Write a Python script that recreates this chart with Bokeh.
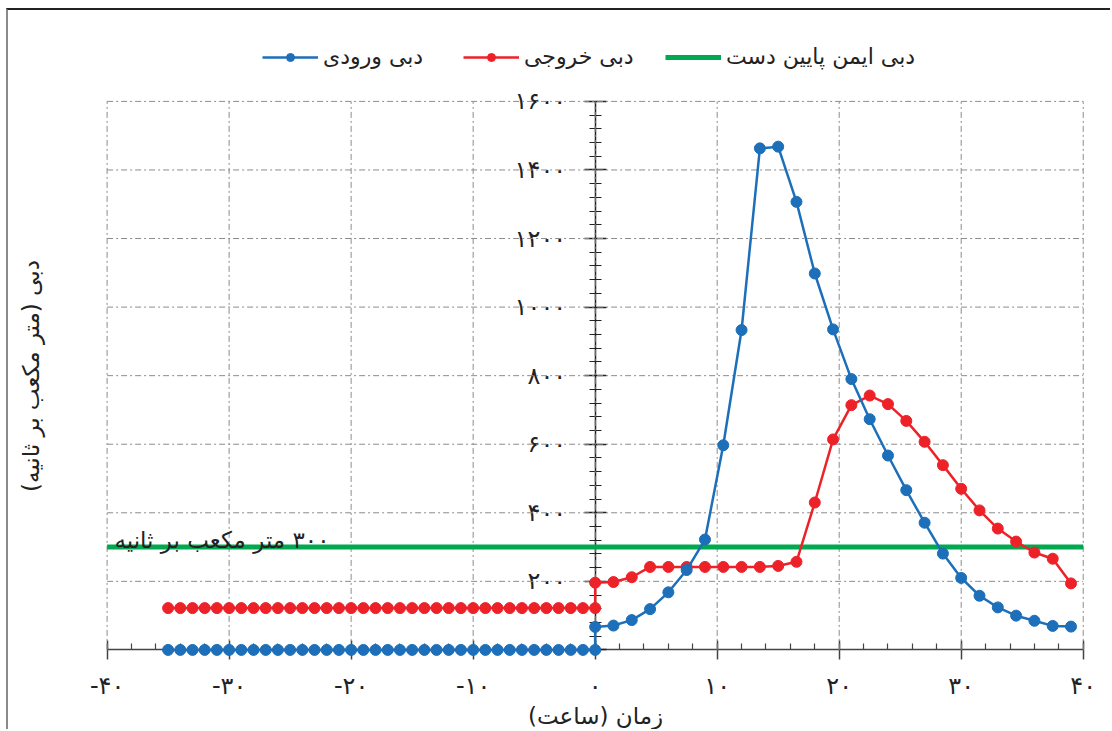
from bokeh.plotting import figure
from bokeh.models import (LinearAxis, FixedTicker, SingleIntervalTicker, Legend,
                          LegendItem, Range1d)
from bokeh.embed import file_html
from bokeh.resources import INLINE
from bokeh.core.properties import value

# ---------------- data ----------------
hours = [-35, -34, -33, -32, -31, -30, -29, -28, -27, -26, -25, -24, -23, -22,
         -21, -20, -19, -18, -17, -16, -15, -14, -13, -12, -11, -10, -9, -8,
         -7, -6, -5, -4, -3, -2, -1, 0,
         0, 1.5, 3, 4.5, 6, 7.5, 9, 10.5, 12, 13.5, 15, 16.5, 18, 19.5, 21,
         22.5, 24, 25.5, 27, 28.5, 30, 31.5, 33, 34.5, 36, 37.5, 39]

inflow = [0, 0, 0, 0, 0, 0, 0, 0, 0, 0, 0, 0, 0, 0, 0, 0, 0, 0,
          0, 0, 0, 0, 0, 0, 0, 0, 0, 0, 0, 0, 0, 0, 0, 0, 0, 0,
          67, 71, 87, 119, 168, 233, 322, 597, 933, 1463, 1468, 1307, 1098,
          935, 790, 673, 567, 466, 371, 281, 210, 158, 124, 100, 85, 70, 68]

outflow = [122, 122, 122, 122, 122, 122, 122, 122, 122, 122, 122, 122,
           122, 122, 122, 122, 122, 122, 122, 122, 122, 122, 122, 122,
           122, 122, 122, 122, 122, 122, 122, 122, 122, 122, 122, 122,
           196, 198, 212, 242, 242, 242, 242, 242, 242, 242, 245, 257, 430,
           614, 714, 742, 717, 668, 607, 539, 470, 407, 354, 316, 284, 266, 194]

safe_flow = 300
x_start, x_end = -40, 40
y_start, y_top_tick = 0, 1600
x_view_start, x_view_end = -43, 42.4
y_view_start, y_view_end = -238, 1836

RLM = "\u200f"
label_inflow = "دبی ورودی"
label_outflow = "دبی خروجی"
label_safe = "دبی ایمن پایین دست"
safe_note = RLM + "۳۰۰ متر مکعب بر ثانیه"
x_title = RLM + "زمان (ساعت)" + RLM
y_title = RLM + "دبی (متر مکعب بر ثانیه)" + RLM

x_ticks = [-40, -30, -20, -10, 0, 10, 20, 30, 40]
x_tick_labels = ["-۴۰", "-۳۰", "-۲۰", "-۱۰", "۰", "۱۰", "۲۰", "۳۰", "۴۰"]
y_ticks = [0, 200, 400, 600, 800, 1000, 1200, 1400, 1600]
y_tick_labels = ["۰", "۲۰۰", "۴۰۰", "۶۰۰", "۸۰۰", "۱۰۰۰", "۱۲۰۰", "۱۴۰۰", "۱۶۰۰"]

BLUE = "#1c6fb8"
RED = "#ed2229"
GREEN = "#00a94f"
INK = "#222222"
GRID = "#8c8c8c"
FONT = "DejaVu Sans"

# ---------------- figure ----------------
p = figure(width=1104, height=721, output_backend="svg", toolbar_location=None,
           x_range=Range1d(x_view_start, x_view_end),
           y_range=Range1d(y_view_start, y_view_end),
           min_border_left=62, min_border_right=0, min_border_top=10,
           min_border_bottom=0)
p.styles = {"margin-left": "6px", "margin-top": "8px",
            "border-top": "2px solid #222222", "border-left": "2px solid #8a8a8a"}
p.outline_line_color = None
p.background_fill_color = "white"
p.border_fill_color = "white"
p.xgrid.visible = False
p.ygrid.visible = False

# grid (dash-dot), drawn from the tick lists
p.segment(x0=x_ticks, y0=[y_start] * len(x_ticks), x1=x_ticks,
          y1=[y_top_tick] * len(x_ticks), line_color=GRID, line_width=1,
          line_dash="6 3 2 3")
p.segment(x0=[x_start] * (len(y_ticks) - 1), y0=y_ticks[1:],
          x1=[x_end] * (len(y_ticks) - 1), y1=y_ticks[1:], line_color=GRID,
          line_width=1, line_dash="6 3 2 3")

# x axis (drawn at y = 0)
xa = p.xaxis[0]
xa.fixed_location = 0
xa.level = "underlay"
xa.bounds = (x_start, x_end)
xa.ticker = SingleIntervalTicker(interval=10, num_minor_ticks=5)
xa.major_label_overrides = {t: s for t, s in zip(x_ticks, x_tick_labels)}
xa.axis_line_color = "#444444"
xa.axis_line_width = 1.5
xa.major_tick_line_color = "#444444"
xa.major_tick_line_width = 1.5
xa.major_tick_in = 9
xa.major_tick_out = 10
xa.minor_tick_line_color = "#444444"
xa.minor_tick_line_width = 1.2
xa.minor_tick_in = 6
xa.minor_tick_out = 0
xa.major_label_standoff = 12
xa.major_label_text_font = FONT
xa.major_label_text_font_size = "24px"
xa.major_label_text_color = INK
xa.axis_label = x_title
xa.axis_label_text_font = FONT
xa.axis_label_text_font_size = "23px"
xa.axis_label_text_font_style = "normal"
xa.axis_label_text_color = INK
xa.axis_label_standoff = 0

# y axis (crossing at x = 0)
ya = p.yaxis[0]
ya.fixed_location = 0
ya.level = "underlay"
ya.bounds = (y_start, y_top_tick)
ya.ticker = SingleIntervalTicker(interval=200, num_minor_ticks=5)
ya.major_label_overrides = {t: s for t, s in zip(y_ticks, y_tick_labels)}
ya.axis_line_color = INK
ya.axis_line_width = 1.5
ya.major_tick_line_color = INK
ya.major_tick_line_width = 1.5
ya.major_tick_in = 11
ya.major_tick_out = 11
ya.minor_tick_line_color = INK
ya.minor_tick_line_width = 1.2
ya.minor_tick_in = 6
ya.minor_tick_out = 6
ya.major_label_standoff = 18
ya.major_label_text_font = FONT
ya.major_label_text_font_size = "24px"
ya.major_label_text_color = INK

# y title on the far left
ta = LinearAxis(ticker=FixedTicker(ticks=[]), axis_line_color=None,
                major_tick_line_color=None, minor_tick_line_color=None,
                axis_label=y_title, axis_label_text_font=FONT,
                axis_label_text_font_size="23px",
                axis_label_text_font_style="normal",
                axis_label_text_color=INK, axis_label_standoff=27)
p.add_layout(ta, "left")

# safe flow line
safe_r = p.line(x=[x_start, x_end], y=[safe_flow, safe_flow], line_color=GREEN,
                line_width=5)
p.text(x=[-39.4], y=[safe_flow], text=[safe_note], text_font=value(FONT),
       text_font_size="23px", text_baseline="bottom", text_align="left",
       y_offset=6, text_color=INK)

# series
out_line = p.line(hours, outflow, line_color=RED, line_width=2.5)
out_pts = p.scatter(hours, outflow, size=11, fill_color=RED, line_color=RED)
in_line = p.line(hours, inflow, line_color=BLUE, line_width=2.5)
in_pts = p.scatter(hours, inflow, size=11, fill_color=BLUE, line_color=BLUE)

# legend: one entry per box so each sits where the reference has it
legend_entries = [(label_inflow, [in_line, in_pts], 192),
                  (label_outflow, [out_line, out_pts], 393),
                  (label_safe, [safe_r], 595)]
for lab, rends, lx in legend_entries:
    lg = Legend(items=[LegendItem(label=lab, renderers=rends)],
                orientation="horizontal", location=(lx, 662),
                glyph_width=56, glyph_height=20, label_standoff=5,
                padding=0, margin=0, border_line_color=None,
                background_fill_alpha=0, label_text_font=FONT,
                label_text_font_size="22px", label_text_color=INK)
    p.add_layout(lg)

open("out.html", "w").write(file_html(p, INLINE))
